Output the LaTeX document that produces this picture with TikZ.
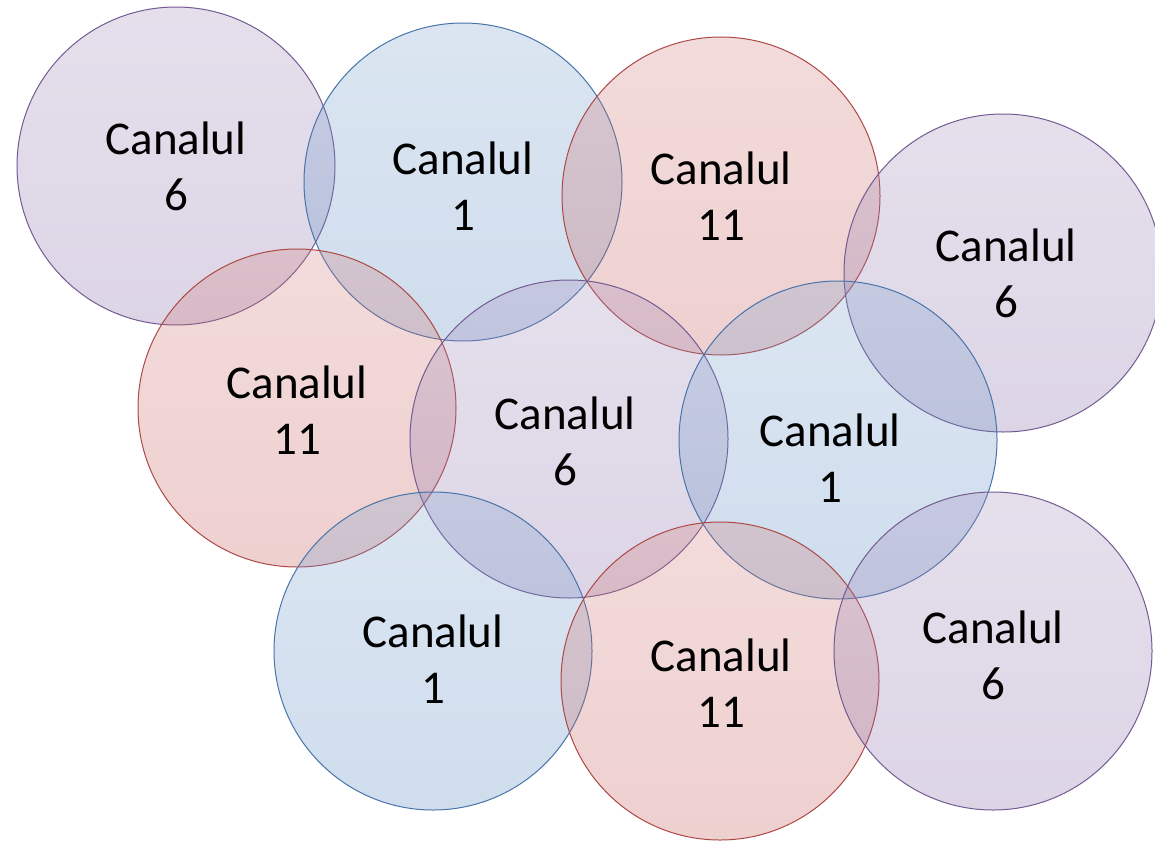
\documentclass[tikz,border=0pt]{standalone}
\usepackage{fontspec}
\setmainfont{Carlito}
\definecolor{chpurple}{HTML}{8064A2}
\definecolor{chblue}{HTML}{4F81BD}
\definecolor{chred}{HTML}{C0504D}
\tikzset{
  cell/.style={circle, minimum size=318pt, inner sep=0pt, line width=1pt,
    draw=#1!90!black, top color=#1!75!white, bottom color=#1, fill opacity=0.27},
  cellname/.style={align=center, font=\fontsize{47}{56}\selectfont, text=black}
}
\begin{document}
\begin{tikzpicture}[x=1pt, y=-1pt]
\useasboundingbox (0,0) rectangle (1155,843);
% ten cells, channels 1 / 6 / 11
\foreach \x/\y/\col/\num/\dx/\dy [count=\i] in {
  176/166/chpurple/6/0/0,
  463/182/chblue/1/0/4,
  721/196/chred/11/0/0,
  1003/273/chpurple/6/3/0,
  297/408/chred/11/0/2,
  569/439/chpurple/6/-4/2,
  838/440/chblue/1/-8/18,
  433/651/chblue/1/0/8,
  720/681/chred/11/1/2,
  993/651/chpurple/6/0/4}{
\node [cell=\col] (c\i) at (\x,\y) {};
\node [cellname] (t\i) at ({\x+\dx},{\y+\dy}) {Canalul\\\num};
}
\end{tikzpicture}
\end{document}
